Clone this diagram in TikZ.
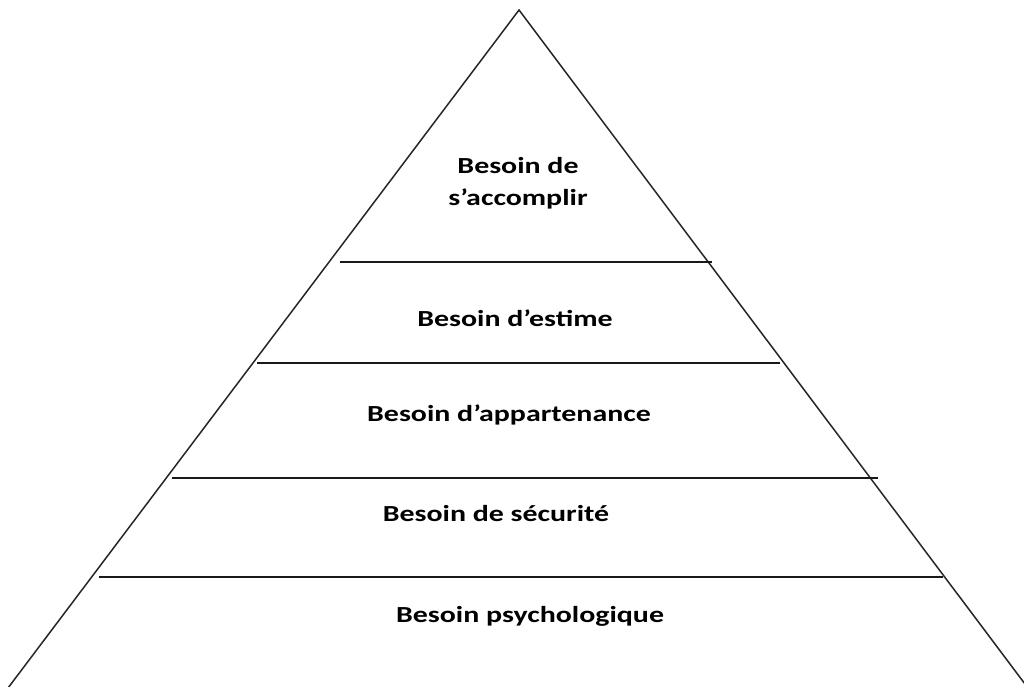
\documentclass[tikz,border=0pt]{standalone}
\usepackage{fontspec}
\setmainfont{Carlito}[FakeStretch=1.3]
\begin{document}
\begin{tikzpicture}[x=1pt,y=-1pt,
  edge/.style={line width=1.5pt,black!85},
  level/.style={line width=1.6pt,black!90},
  lbl/.style={font=\bfseries\fontsize{23}{32}\selectfont,align=center,inner sep=0pt}]
\useasboundingbox (0,0) rectangle (1024,686);
% pyramid outline
\coordinate (apex) at (519,10);
\coordinate (bl) at (8,688);
\coordinate (br) at (1028,688);
\draw[edge] (bl) -- (apex) -- (br);
% level separators
\coordinate (l1a) at (340,262); \coordinate (l1b) at (712,262);
\coordinate (l2a) at (257,363); \coordinate (l2b) at (780,363);
\coordinate (l3a) at (172,478); \coordinate (l3b) at (878,478);
\coordinate (l4a) at (99,577);  \coordinate (l4b) at (943,577);
\draw[level] (l1a) -- (l1b);
\draw[level] (l2a) -- (l2b);
\draw[level] (l3a) -- (l3b);
\draw[level] (l4a) -- (l4b);
% level labels
\node[lbl] (n1) at (518,183) {Besoin de\\s’accomplir};
\node[lbl] (n2) at (515,318) {Besoin d’estime};
\node[lbl] (n3) at (509,415) {Besoin d’appartenance};
\node[lbl] (n4) at (496,514) {Besoin de sécurité};
\node[lbl] (n5) at (530,616) {Besoin psychologique};
\end{tikzpicture}
\end{document}
